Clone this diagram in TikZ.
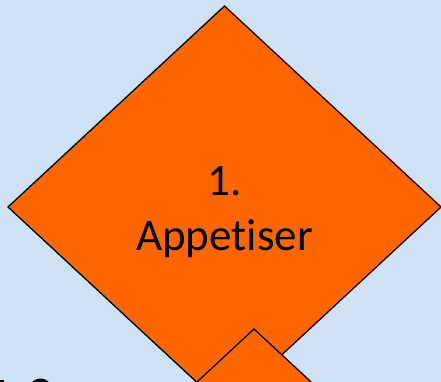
\documentclass[tikz,border=0pt]{standalone}
\usepackage{fontspec}
\setmainfont[RawFeature={-liga;-dlig;-clig}]{Carlito}
\usetikzlibrary{shapes.geometric}
\definecolor{bgblue}{HTML}{CFE2F3}
\definecolor{dorange}{HTML}{FF6600}
\tikzset{
  diam/.style={draw=black, line width=1.3pt, fill=dorange, line join=miter},
  lbl/.style={font=\fontsize{45}{55}\selectfont, text=black, align=center, inner sep=0pt}
}
\begin{document}
\begin{tikzpicture}[x=1pt,y=-1pt]
\useasboundingbox (0,0) rectangle (441,382);
\clip (0,0) rectangle (441,382);
\fill[bgblue] (0,0) rectangle (441,382);
% partially visible black shapes at bottom-left
\fill[black] (0,379.5) rectangle (3.5,382);
\fill[black] (40.5,395) ellipse [x radius=13.5, y radius=16.5];
% main diamond
\coordinate (t) at (224.5,6);
\coordinate (r) at (441,207);
\coordinate (b) at (224.5,408);
\coordinate (l) at (8,207);
\draw[diam] (t) -- (r) -- (b) -- (l) -- cycle;
\node[lbl, anchor=base] (n1) at (224.5,195) {1.};
\node[lbl, anchor=base] (n2) at (224.5,250) {Appetiser};
% second diamond (lower), drawn over the first
\draw[diam] (254,329) -- (470.5,530) -- (254,731) -- (37.5,530) -- cycle;
\end{tikzpicture}
\end{document}
